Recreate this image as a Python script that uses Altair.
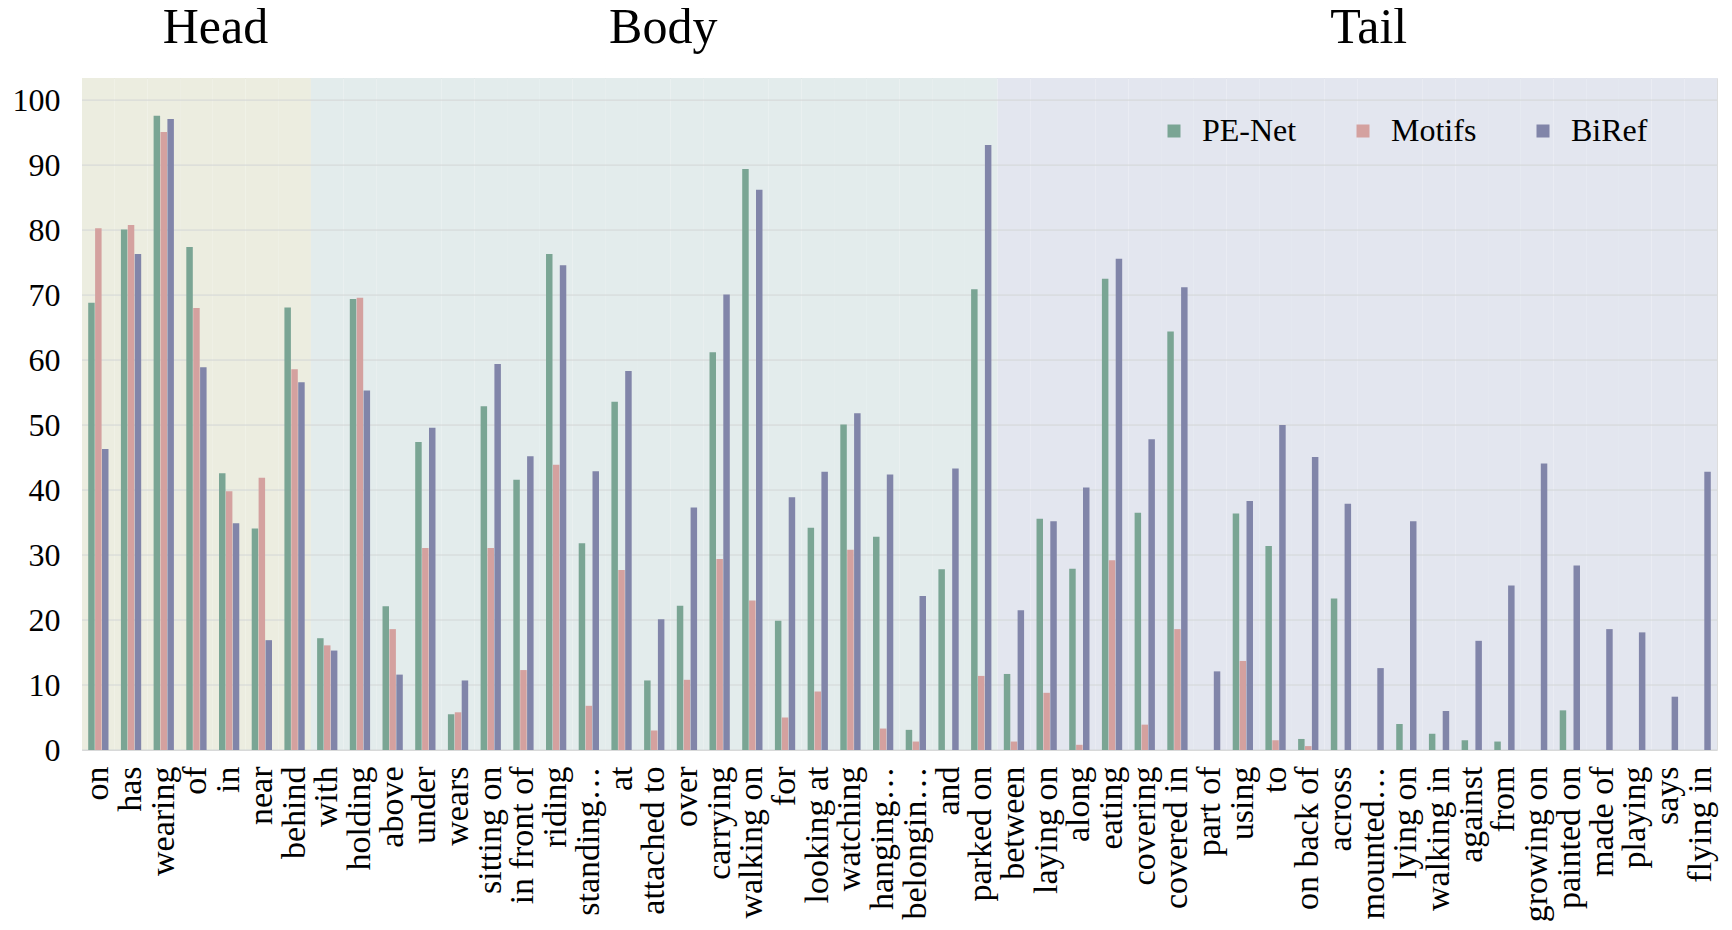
import altair as alt
import pandas as pd

# ---- data ----
head_cats = ["on", "has", "wearing", "of", "in", "near", "behind"]
body_cats = ["with", "holding", "above", "under", "wears", "sitting on", "in front of",
             "riding", "standing…", "at", "attached to", "over", "carrying", "walking on",
             "for", "looking at", "watching", "hanging…", "belongin…", "and", "parked on"]
tail_cats = ["between", "laying on", "along", "eating", "covering", "covered in", "part of",
             "using", "to", "on back of", "across", "mounted…", "lying on", "walking in",
             "against", "from", "growing on", "painted on", "made of", "playing", "says",
             "flying in"]
categories = head_cats + body_cats + tail_cats
groups = ["Head"] * len(head_cats) + ["Body"] * len(body_cats) + ["Tail"] * len(tail_cats)

series = ["PE-Net", "Motifs", "BiRef"]

pe_net = [68.8, 80.1, 97.6, 77.4, 42.6, 34.1, 68.1,
          17.2, 69.4, 22.1, 47.4, 5.5, 52.9, 41.6, 76.3, 31.8, 53.6, 10.7, 22.2, 61.2,
          89.4, 19.9, 34.2, 50.1, 32.8, 3.1, 27.8, 70.9,
          11.7, 35.6, 27.9, 72.5, 36.5, 64.4, 0, 36.4, 31.4, 1.7, 23.3, 0, 4.0, 2.5,
          1.5, 1.3, 0, 6.1, 0, 0, 0, 0]
motifs = [80.3, 80.8, 95.1, 68.0, 39.8, 41.9, 58.6,
          16.1, 69.6, 18.6, 31.1, 5.8, 31.1, 12.3, 43.9, 6.8, 27.7, 3.0, 10.8, 29.4,
          23.0, 5.0, 9.0, 30.8, 3.3, 1.3, 0, 11.4,
          1.3, 8.8, 0.8, 29.2, 3.9, 18.6, 0, 13.7, 1.5, 0.6, 0, 0, 0, 0,
          0, 0, 0, 0, 0, 0, 0, 0]
biref = [46.3, 76.3, 97.1, 58.9, 34.9, 16.9, 56.6,
         15.3, 55.3, 11.6, 49.6, 10.7, 59.4, 45.2, 74.6, 42.9, 58.3, 20.1, 37.3, 70.1,
         86.2, 38.9, 42.8, 51.8, 42.4, 23.7, 43.3, 93.1,
         21.5, 35.2, 40.4, 75.6, 47.8, 71.2, 12.1, 38.3, 50.0, 45.1, 37.9, 12.6, 35.2, 6.0,
         16.8, 25.3, 44.1, 28.4, 18.6, 18.1, 8.2, 42.8]

group_names = ["Head", "Body", "Tail"]
header_anchor = ["of", "attached to", "mounted…"]
y_ticks = [0, 10, 20, 30, 40, 50, 60, 70, 80, 90, 100]

# ---- tables built from the arrays ----
rows = []
for i, c in enumerate(categories):
    for s, vals in zip(series, [pe_net, motifs, biref]):
        rows.append({"cat": c, "series": s, "value": vals[i]})
df = pd.DataFrame(rows)
bg_df = pd.DataFrame({"cat": categories, "group": groups})
grid_df = pd.DataFrame({"tick": y_ticks})

# ---- style ----
FONT = "Liberation Serif"
W, H = 1635, 672
Y_MAX = 103.4
bar_colors = ["#7AA594", "#D4A19F", "#8185A9"]
bg_colors = ["#ECEDE0", "#E3ECEC", "#E3E6EF"]

y_scale = alt.Scale(domain=[0, Y_MAX], nice=False, zero=True)
y_axis = alt.Axis(values=y_ticks, grid=False, domain=False, ticks=False,
                  labelFontSize=32, labelPadding=22, title=None, labelColor="black",
                  labelFont=FONT)

bg_x = alt.X("cat:N", sort=categories, axis=None,
             scale=alt.Scale(paddingInner=0, paddingOuter=0))

bg = alt.Chart(bg_df).mark_rect().encode(
    x=bg_x,
    y=alt.value(0),
    y2=alt.value("height"),
    color=alt.Color("group:N", scale=alt.Scale(domain=group_names, range=bg_colors),
                    legend=None),
)

hdr_layers = []
for name, anchor, dx in zip(group_names, header_anchor, [19, 9, -5]):
    hdr = alt.Chart(pd.DataFrame({"cat": [anchor], "label": [name]})).mark_text(
        font=FONT, fontSize=50, baseline="alphabetic", align="center", dx=dx, color="black"
    ).encode(x=bg_x, y=alt.value(-35), text="label:N")
    hdr_layers.append(hdr)

back = alt.layer(bg, *hdr_layers)

grid = alt.Chart(grid_df).mark_rule(color="#D3D6D6", strokeWidth=1).encode(
    y=alt.Y("tick:Q", scale=y_scale, axis=y_axis)
)

bars = alt.Chart(df).mark_bar().encode(
    x=alt.X("cat:N", sort=categories, title=None,
            scale=alt.Scale(paddingInner=0.38, paddingOuter=0.19),
            axis=alt.Axis(labelAngle=270, labelFont=FONT, labelFontSize=34,
                          labelPadding=16, ticks=False, domain=False,
                          labelColor="black", labelLimit=400, labelOverlap=False)),
    xOffset=alt.XOffset("series:N", sort=series, scale=alt.Scale(paddingInner=0.06)),
    y=alt.Y("value:Q", scale=y_scale, axis=y_axis),
    color=alt.Color("series:N", sort=series,
                    scale=alt.Scale(domain=series, range=bar_colors),
                    legend=alt.Legend(orient="none", legendX=1076, legendY=37,
                                      direction="horizontal", columns=3, title=None,
                                      symbolType="square", symbolSize=169,
                                      symbolStrokeWidth=0, labelFont=FONT,
                                      labelFontSize=32, labelColor="black",
                                      labelOffset=12, columnPadding=50, padding=0,
                                      labelLimit=300)),
)

chart = alt.layer(back, grid, bars).resolve_scale(
    x="independent", color="independent"
).properties(
    width=W, height=H,
    padding={"left": 74, "top": 70, "right": 7, "bottom": 172},
    autosize=alt.AutoSizeParams(type="none"),
).configure_view(stroke=None).configure(font=FONT, background="white")

chart.save("out.html", embed_options={"renderer": "svg", "actions": False})
